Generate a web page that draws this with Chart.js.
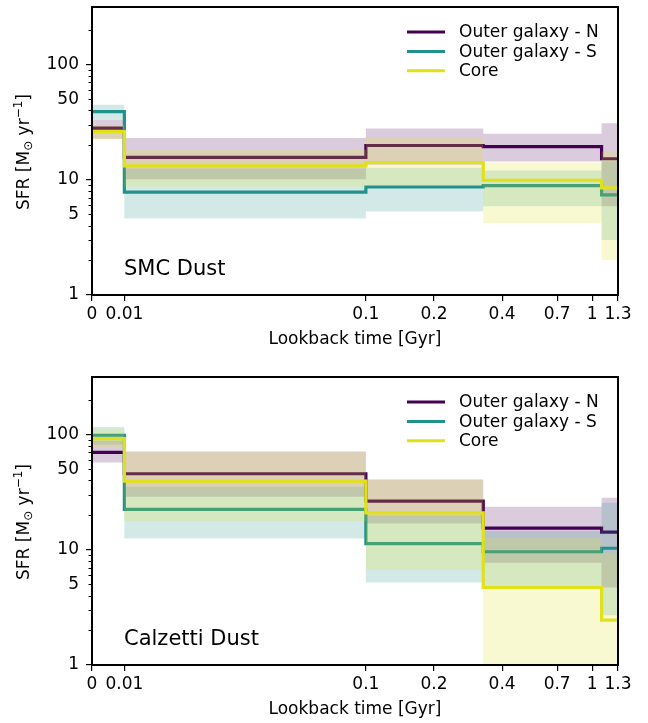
<!DOCTYPE html>
<html>
<head>
<meta charset="utf-8">
<script src="https://cdn.jsdelivr.net/npm/chart.js@4.4.1/dist/chart.umd.min.js"></script>
<style>
  html, body { margin: 0; padding: 0; background: #fff; }
  #wrap { position: relative; width: 648px; height: 723px; }
  canvas { position: absolute; left: 0; }
  #smcChart { top: 0; }
  #calzettiChart { top: 370px; }
</style>
</head>
<body>
<div id="wrap">
  <canvas id="smcChart" width="648" height="353"></canvas>
  <canvas id="calzettiChart" width="648" height="353"></canvas>
</div>
<script>
// ===============================================
// SFH step plots - two dust laws
// ===============================================

// bin edges in lookback time [Gyr]
const BIN_EDGES = [0, 0.01, 0.1, 0.33, 1.1, 1.3];

const X_TICKS = [0, 0.01, 0.1, 0.2, 0.4, 0.7, 1, 1.3];
const X_TICK_LABELS = ['0', '0.01', '0.1', '0.2', '0.4', '0.7', '1', '1.3'];

const Y_TICKS = [1, 2, 3, 4, 5, 6, 7, 8, 9, 10, 20, 30, 40, 50, 60, 70, 80, 90, 100, 200];
const Y_MAJOR = [1, 10, 100];
const Y_LABELLED = [1, 5, 10, 50, 100];

const SERIES_NAMES = ['Outer galaxy - N', 'Outer galaxy - S', 'Core'];
const SERIES_COLORS = ['#440154', '#21918c', 'rgb(225,225,25)'];
const BAND_COLORS = ['rgba(68,1,84,0.2)', 'rgba(33,145,140,0.2)', 'rgba(225,225,25,0.2)'];

// SMC dust: median SFR per bin + lower/upper band
const smcNorth   = [28, 15.6, 19.8, 19.4, 15.2];
const smcNorthLo = [22.7, 10.1, 13.5, 14.4, 5.9];
const smcNorthHi = [33, 23.0, 27.8, 25.0, 30.9];
const smcSouth   = [38.9, 7.8, 8.65, 8.9, 7.4];
const smcSouthLo = [33, 4.6, 5.3, 5.9, 3.0];
const smcSouthHi = [44.7, 12.5, 12.7, 12.0, 14.4];
const smcCore    = [26.2, 13.2, 14.1, 9.9, 8.5];
const smcCoreLo  = [22.3, 8.7, 9.0, 4.2, 2.0];
const smcCoreHi  = [30, 18.2, 23.3, 14.1, 17.6];

// Calzetti dust
const calNorth   = [70, 45.6, 26.4, 15.4, 14.2];
const calNorthLo = [57, 28.8, 16.9, 7.7, 4.7];
const calNorthHi = [88.6, 71, 40.7, 23.6, 28.2];
const calSouth   = [98.4, 22.4, 11.3, 9.6, 10.3];
const calSouthLo = [82, 12.5, 5.2, 4.8, 2.7];
const calSouthHi = [116, 35.2, 19.8, 14.5, 25.5];
const calCore    = [92, 39.3, 20.9, 4.7, 2.45];
const calCoreLo  = [78, 17.7, 6.7, 0.5, 0.5];
const calCoreHi  = [112, 70, 40.7, 12.7, 9.4];

const FONT = '"DejaVu Sans", sans-serif';

// axis is log10(t) from 0.1 Gyr on; the 0 and 0.01 edges are squeezed in on the left
const X_ANCHORS = [[0, -2.21], [0.01, -2.067], [0.1, -1]];
function axisPos(t) {
    if (t >= 0.1) return Math.log10(t);
    for (let i = 0; i < X_ANCHORS.length - 1; i++) {
        const [t0, u0] = X_ANCHORS[i];
        const [t1, u1] = X_ANCHORS[i + 1];
        if (t <= t1) return u0 + (u1 - u0) * (t - t0) / (t1 - t0);
    }
}

function stepPoints(values) {
    return BIN_EDGES.map((e, i) => ({ x: axisPos(e), y: values[Math.min(i, values.length - 1)] }));
}

const decorPlugin = {
    id: 'decor',
    afterDraw(chart, args, opts) {
        const { ctx, chartArea: a, scales } = chart;
        ctx.save();
        ctx.strokeStyle = '#000';
        ctx.lineWidth = 1;
        // short minor ticks on the log axis
        scales.y.ticks.forEach(t => {
            if (Y_MAJOR.includes(t.value)) return;
            const py = Math.round(scales.y.getPixelForValue(t.value)) + 0.5;
            ctx.beginPath();
            ctx.moveTo(a.left - 3.5, py);
            ctx.lineTo(a.left, py);
            ctx.stroke();
        });
        // axes frame
        ctx.lineWidth = 2;
        ctx.strokeRect(a.left, a.top, a.right - a.left, a.bottom - a.top);

        // y title with subscript / superscript
        const parts = [['SFR [M', 17, 0], ['\u2299', 12, 4], [' yr', 17, 0], ['\u22121', 12, -6], [']', 17, 0]];
        ctx.fillStyle = '#000';
        ctx.textBaseline = 'middle';
        ctx.textAlign = 'left';
        let total = 0;
        parts.forEach(p => { ctx.font = p[1] + 'px ' + FONT; total += ctx.measureText(p[0]).width; });
        ctx.translate(25, (a.top + a.bottom) / 2 + 1);
        ctx.rotate(-Math.PI / 2);
        let cx = -total / 2;
        parts.forEach(p => {
            ctx.font = p[1] + 'px ' + FONT;
            ctx.fillText(p[0], cx, p[2]);
            cx += ctx.measureText(p[0]).width;
        });
        ctx.setTransform(1, 0, 0, 1, 0, 0);

        // legend
        SERIES_NAMES.forEach((name, i) => {
            const y = a.top + 25 + i * 19.4;
            ctx.strokeStyle = SERIES_COLORS[i];
            ctx.lineWidth = 3;
            ctx.beginPath();
            ctx.moveTo(a.left + 315, y);
            ctx.lineTo(a.left + 353, y);
            ctx.stroke();
            ctx.fillStyle = '#000';
            ctx.font = '17px ' + FONT;
            ctx.textBaseline = 'middle';
            ctx.fillText(name, a.left + 367, y + 1);
        });

        // panel label
        ctx.font = '21px ' + FONT;
        ctx.textBaseline = 'alphabetic';
        ctx.fillText(opts.label, a.left + 32, a.bottom - 20);
        ctx.restore();
    }
};

function makeChart(canvasId, label, medians, lows, highs) {
    const datasets = [];
    // first dataset is drawn last, so push Core first to end up on top
    for (let i = SERIES_NAMES.length - 1; i >= 0; i--) {
        datasets.push({ label: SERIES_NAMES[i], data: stepPoints(medians[i]), stepped: true, borderColor: SERIES_COLORS[i], borderWidth: 3.2, pointRadius: 0, fill: false });
        datasets.push({ data: stepPoints(lows[i]), stepped: true, borderColor: 'transparent', borderWidth: 0, pointRadius: 0, backgroundColor: BAND_COLORS[i], fill: '+1' });
        datasets.push({ data: stepPoints(highs[i]), stepped: true, borderColor: 'transparent', borderWidth: 0, pointRadius: 0, fill: false });
    }

    return new Chart(document.getElementById(canvasId), {
        type: 'line',
        data: { datasets: datasets },
        plugins: [decorPlugin],
        options: {
            responsive: false,
            animation: false,
            layout: { padding: { left: 0, right: 30, top: 7, bottom: 0 } },
            plugins: {
                legend: { display: false },
                tooltip: { enabled: false },
                decor: { label: label }
            },
            scales: {
                x: {
                    type: 'linear',
                    min: axisPos(0),
                    max: axisPos(1.3),
                    afterBuildTicks: scale => { scale.ticks = X_TICKS.map(v => ({ value: axisPos(v) })); },
                    afterFit: scale => { scale.height = 58; scale.paddingLeft = 0; scale.paddingRight = 0; },
                    ticks: { autoSkip: false, maxRotation: 0, padding: 3, color: '#000', font: { family: FONT, size: 17 }, callback: (v, i) => X_TICK_LABELS[i] },
                    grid: { drawOnChartArea: false, tickLength: 6, color: '#000', lineWidth: 1.2 },
                    border: { display: false },
                    title: { display: true, text: 'Lookback time [Gyr]', color: '#000', font: { family: FONT, size: 17 }, padding: { top: 0, bottom: 3 } }
                },
                y: {
                    type: 'logarithmic',
                    min: 1,
                    max: 315,
                    afterBuildTicks: scale => { scale.ticks = Y_TICKS.map(v => ({ value: v })); },
                    afterFit: scale => { scale.width = 92; scale.paddingTop = 0; scale.paddingBottom = 0; },
                    ticks: { autoSkip: false, padding: 7, color: '#000', font: { family: FONT, size: 17 }, callback: v => Y_LABELLED.includes(v) ? String(v) : '' },
                    grid: { drawOnChartArea: false, tickLength: 6, lineWidth: 1.2, color: c => (c.tick && Y_MAJOR.includes(c.tick.value)) ? '#000' : 'rgba(0,0,0,0)' },
                    border: { display: false }
                }
            }
        }
    });
}

makeChart('smcChart', 'SMC Dust',
    [smcNorth, smcSouth, smcCore],
    [smcNorthLo, smcSouthLo, smcCoreLo],
    [smcNorthHi, smcSouthHi, smcCoreHi]);

makeChart('calzettiChart', 'Calzetti Dust',
    [calNorth, calSouth, calCore],
    [calNorthLo, calSouthLo, calCoreLo],
    [calNorthHi, calSouthHi, calCoreHi]);
</script>
</body>
</html>
